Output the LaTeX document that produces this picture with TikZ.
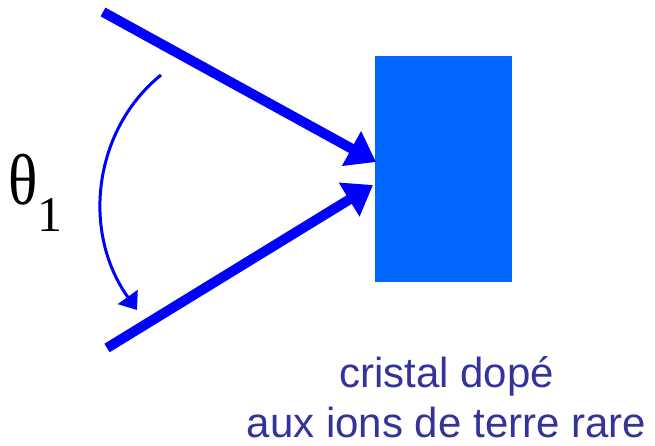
\documentclass[tikz,border=0pt]{standalone}
\usepackage{fontspec}
\setmainfont{Liberation Serif}
\newfontfamily\arialfont{Liberation Sans}
\usetikzlibrary{arrows.meta,positioning}
\definecolor{beamblue}{RGB}{0,0,255}
\definecolor{crystalblue}{RGB}{0,102,255}
\definecolor{labelblue}{RGB}{51,51,153}
\tikzset{
  beam/.style={beamblue, line width=10pt, -{Triangle[length=28pt,width=38pt]}},
  anglearrow/.style={beamblue, line width=3pt, -{Triangle[length=16pt,width=24pt]}}
}
\begin{document}
\begin{tikzpicture}[x=1pt, y=-1pt]
    \useasboundingbox (0,0) rectangle (655,446);

    % Crystal
    \node[fill=crystalblue, minimum width=137pt, minimum height=226pt, inner sep=0pt] (crystal) at (443.5,169) {};
    \node[below=74pt of crystal, xshift=3pt, inner sep=0pt, align=center, text=labelblue,
          font=\arialfont\fontsize{42}{50}\selectfont] (crystallabel) {cristal dop\'e\\aux ions de terre rare};

    % Incident beams
    \coordinate (beamAstart) at (103,12);
    \coordinate (beamAend) at (376,162);
    \coordinate (beamBstart) at (107,348);
    \coordinate (beamBend) at (373,185);
    \draw[beam] (beamAstart) -- (beamAend);
    \draw[beam] (beamBstart) -- (beamBend);

    % Angle
    \coordinate (anglestart) at (161,75);
    \coordinate (angleend) at (137,310);
    \draw[anglearrow] (anglestart) .. controls (95,128) and (80,230) .. (angleend);
    \node[font=\fontsize{72}{80}\selectfont, inner sep=0pt, anchor=base west] (theta) at (8,205)
        {\scalebox{0.85}[1]{θ}\raisebox{-27pt}{\fontsize{50}{52}\selectfont 1}};
\end{tikzpicture}
\end{document}
